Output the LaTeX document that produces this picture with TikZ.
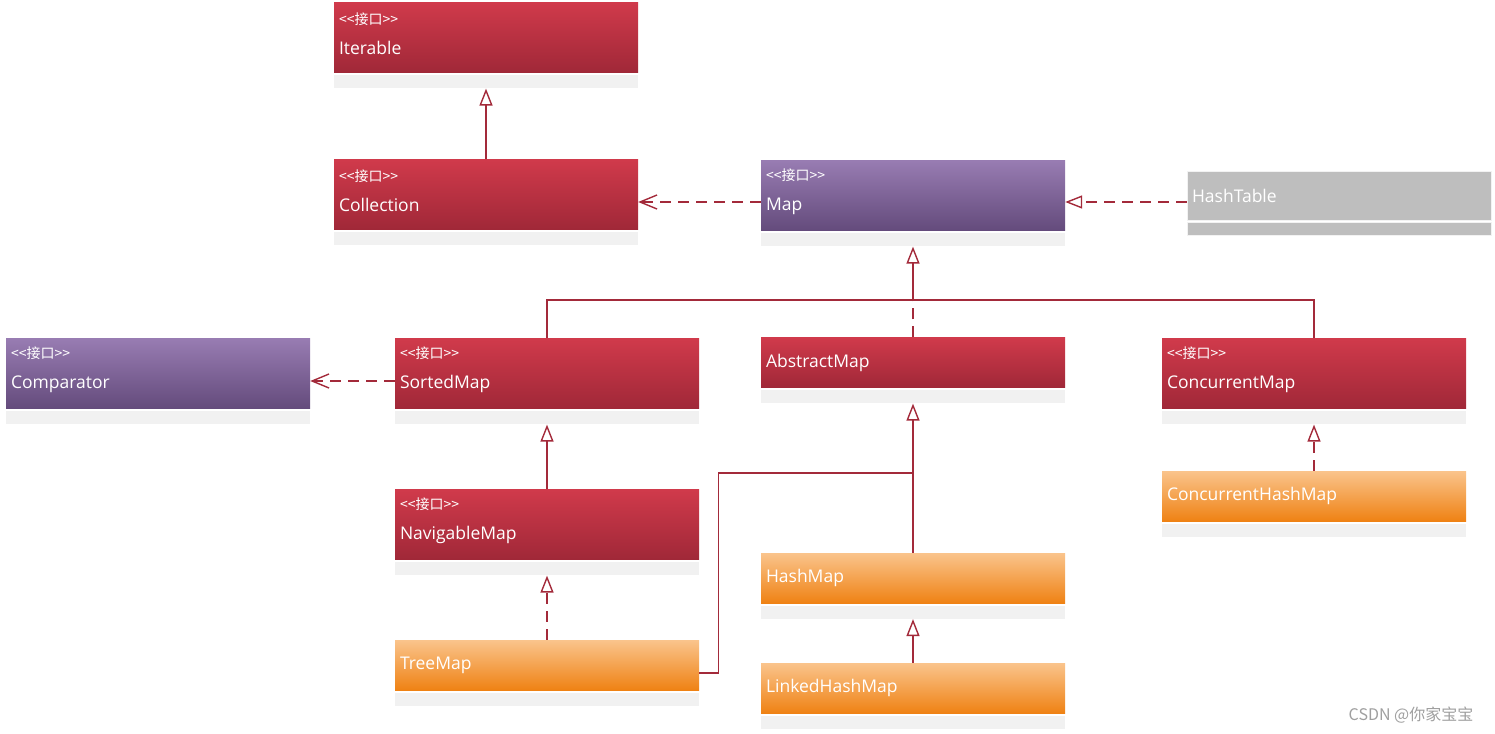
\documentclass[tikz,border=0pt]{standalone}
\usepackage{fontspec}
\setmainfont{Open Sans}
\newfontfamily\cjk{Noto Sans CJK SC}
\usepackage{tikz}
\usetikzlibrary{shapes,arrows.meta,positioning,calc}

\definecolor{redtop}{RGB}{208,58,75}
\definecolor{redbot}{RGB}{160,40,56}
\definecolor{purtop}{RGB}{152,124,178}
\definecolor{purbot}{RGB}{100,75,124}
\definecolor{orgtop}{RGB}{250,196,140}
\definecolor{orgbot}{RGB}{239,130,20}
\definecolor{legacy}{RGB}{190,190,190}
\definecolor{stripc}{RGB}{241,241,241}
\definecolor{lnk}{RGB}{163,42,58}

% stereotype line above an interface name
\newcommand{\stereo}[1]{{\cjk\fontsize{14}{15}\selectfont <\/<接口>\/>}\\[11pt]#1\par\vspace{7pt}}

\begin{document}
\begin{tikzpicture}[x=1pt, y=-1pt]
  % UML class diagram of the Java Map hierarchy
  \tikzstyle{head} = [rectangle, minimum width=304pt, text width=294pt, inner sep=5pt, align=left, text=white, font=\fontsize{17.5}{19}\selectfont]
  \tikzstyle{iface} = [head, minimum height=70pt, top color=redtop, bottom color=redbot]
  \tikzstyle{piface} = [head, minimum height=70pt, top color=purtop, bottom color=purbot]
  \tikzstyle{absc} = [head, minimum height=50pt, top color=redtop, bottom color=redbot]
  \tikzstyle{cls} = [head, minimum height=50pt, top color=orgtop, bottom color=orgbot]
  \tikzstyle{old} = [head, minimum height=49pt, fill=legacy, draw=white!90!gray]
  \tikzstyle{strip} = [rectangle, minimum width=304pt, minimum height=13pt, inner sep=0pt, fill=stripc, below=2.5pt of #1]
  \tikzstyle{inh} = [draw=lnk, line width=1.4pt, -{Triangle[open, length=17pt, width=13pt, line width=1.4pt]}]
  \tikzstyle{realz} = [inh, dash pattern=on 11pt off 7pt]
  \tikzstyle{dep} = [draw=lnk, line width=1.4pt, dash pattern=on 11pt off 7pt, -{Straight Barb[length=17pt, width=14pt, line width=1.4pt]}]
  \tikzstyle{line} = [draw=lnk, line width=1.4pt]

  \useasboundingbox (0,0) rectangle (1495,733);

  % Collection side
  \node[iface] (iter) at (486, 37.5) {\stereo{Iterable}};
  \node[strip=iter] (iter-s) {};
  \node[iface] (coll) at (486, 194.5) {\stereo{Collection}};
  \node[strip=coll] (coll-s) {};

  % Map and its neighbours
  \node[piface] (map) at (913, 195.5) {\stereo{Map}};
  \node[strip=map] (map-s) {};
  \node[old] (htab) at (1339, 195.5) {HashTable};
  \node[strip=htab, fill=legacy, draw=white!90!gray, below=1.5pt of htab] (htab-s) {};

  % second row
  \node[piface] (comp) at (158, 373.5) {\stereo{Comparator}};
  \node[strip=comp] (comp-s) {};
  \node[iface] (sorted) at (547, 373.5) {\stereo{SortedMap}};
  \node[strip=sorted] (sorted-s) {};
  \node[absc] (abs) at (913, 362.5) {AbstractMap};
  \node[strip=abs] (abs-s) {};
  \node[iface] (conc) at (1314, 373.5) {\stereo{ConcurrentMap}};
  \node[strip=conc] (conc-s) {};

  % implementations
  \node[iface] (nav) at (547, 524.5) {\stereo{NavigableMap}};
  \node[strip=nav] (nav-s) {};
  \node[cls] (tree) at (547, 665) {TreeMap};
  \node[strip=tree] (tree-s) {};
  \node[cls] (hash) at (913, 578) {HashMap};
  \node[strip=hash] (hash-s) {};
  \node[cls] (linked) at (913, 688) {LinkedHashMap};
  \node[strip=linked] (linked-s) {};
  \node[cls] (chm) at (1314, 496) {ConcurrentHashMap};
  \node[strip=chm] (chm-s) {};

  % junction points
  \coordinate (jmap) at (913, 300);
  \coordinate (jabs) at (913, 473);

  % connectors
  \draw[inh] (coll.north) -- (iter-s.south);
  \draw[dep] ([yshift=-6.5pt]map.west) -- ([yshift=-6.5pt]map.west -| coll.east);
  \draw[realz] ([yshift=-6.5pt]htab.west) -- ([yshift=-6.5pt]htab.west -| map.east);
  \draw[line] (sorted.north) |- (jmap) -| (conc.north);
  \draw[inh] (jmap) -- (map-s.south);
  \draw[line, dash pattern=on 11pt off 7pt] (abs.north) -- (jmap);
  \draw[dep] ([yshift=-7.5pt]sorted.west) -- ([yshift=-7.5pt]sorted.west -| comp.east);
  \draw[inh] (nav.north) -- (sorted-s.south);
  \draw[realz] (tree.north) -- (nav-s.south);
  \draw[line] ([yshift=-8pt]tree.east) -- ++(19,0) |- (jabs);
  \draw[inh] (hash.north) -- (abs-s.south);
  \draw[inh] (linked.north) -- (hash-s.south);
  \draw[realz] (chm.north) -- (conc-s.south);

  % watermark
  \node[text=gray!75, font=\cjk\fontsize{16}{18}\selectfont] (mark) at (1411, 715) {CSDN @你家宝宝};
\end{tikzpicture}
\end{document}
